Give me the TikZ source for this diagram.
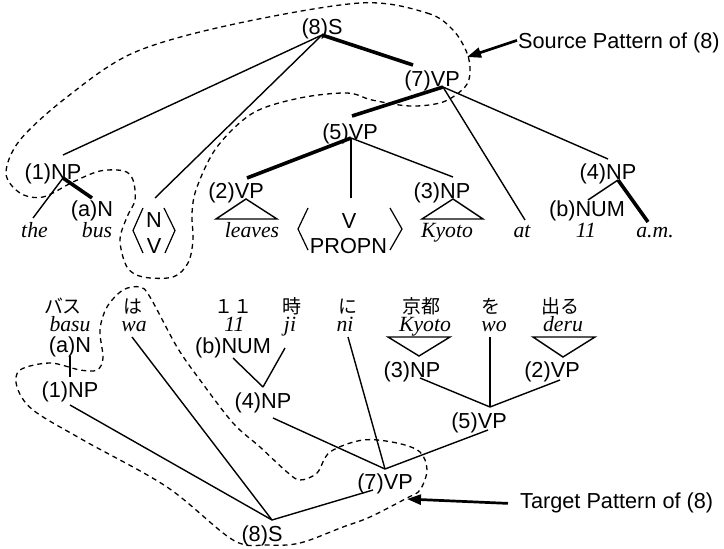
\documentclass[tikz,border=0pt]{standalone}
\usepackage{fontspec}
\usetikzlibrary{arrows.meta}
\newfontfamily\labfont{Liberation Sans}
\newfontfamily\romfont{Liberation Serif}
\newfontfamily\jpfont{Noto Sans CJK JP}
\begin{document}
\begin{tikzpicture}[x=1pt,y=-1pt,
  lab/.style={font=\labfont\fontsize{21.7}{22}\selectfont, inner sep=0pt, anchor=base},
  word/.style={font=\romfont\itshape\fontsize{21.7}{22}\selectfont, inner sep=0pt, anchor=base},
  kana/.style={font=\jpfont\fontsize{19}{20}\selectfont, inner sep=0pt, anchor=base},
  note/.style={font=\labfont\fontsize{21.7}{22}\selectfont, inner sep=0pt, anchor=base west},
  branch/.style={line width=1.4pt},
  head/.style={line width=3.6pt},
  bracket/.style={line width=1.2pt},
  pattern/.style={line width=1.3pt, dash pattern=on 5pt off 4pt},
  callout/.style={line width=2.7pt, -{Triangle[length=14pt,width=10pt]}},
]
\useasboundingbox (0,0) rectangle (724,549);

% ---------------- English tree ----------------
\node[lab] (eS8)  at (322,34)  {(8)S};
\node[lab] (eVP7) at (432,86)  {(7)VP};
\node[lab] (eVP5) at (350,139) {(5)VP};
\node[lab] (eNP1) at (53,179)  {(1)NP};
\node[lab] (eNa)  at (92,216.5)  {(a)N};
\node[lab] (eVP2) at (236,198) {(2)VP};
\node[lab] (eNP3) at (442,198) {(3)NP};
\node[lab] (eNP4) at (608,179) {(4)NP};
\node[lab] (eNUM) at (587,216.5) {(b)NUM};

\node[word] (wthe)    at (34.5,237.5) {the};
\node[word] (wbus)    at (97,237.5)   {bus};
\node[word] (wleaves) at (252,237.5)  {leaves};
\node[word] (wkyoto)  at (447,237.5)  {Kyoto};
\node[word] (wat)     at (522,237.5)  {at};
\node[word] (weleven) at (586,237.5)  {11};
\node[word] (wam)     at (655,237.5)  {a.m.};

% category sets in angle brackets
\node[lab] (cN)     at (154,227) {N};
\node[lab] (cV)     at (154,253) {V};
\node[lab] (cV2)    at (349,228) {V};
\node[lab] (cPROPN) at (348.5,253) {PROPN};
\draw[bracket] (143,208) -- (133,230.5) -- (143,253);
\draw[bracket] (164,208) -- (175,230.5) -- (165,253);
\draw[bracket] (308,208) -- (298,229) -- (308,250);
\draw[bracket] (390,208) -- (402,229) -- (390,250);

% attachment points
\coordinate (aS8)   at (322,35);
\coordinate (aVP7t) at (413,65);
\coordinate (aVP7)  at (443,87);
\coordinate (aVP5t) at (352,116);
\coordinate (aVP5)  at (351,138);
\coordinate (aNP1t) at (63,155);
\coordinate (aNP1)  at (63,178);
\coordinate (aNVt)  at (155,198);
\coordinate (aVP2t) at (247,178);
\coordinate (aV2t)  at (351,198);
\coordinate (aNP3t) at (453,177);
\coordinate (aNP4t) at (608,159);
\coordinate (aNP4)  at (618,180);
\coordinate (aNat)  at (92,198);
\coordinate (athet) at (33,218);
\coordinate (aatt)  at (525,220);
\coordinate (aNUMt) at (588,200);
\coordinate (aamt)  at (648,222);

\draw[head]   (aS8) -- (aVP7t);
\draw[branch] (aS8) -- (aNP1t);
\draw[branch] (aS8) -- (aNVt);
\draw[head]   (aVP7) -- (aVP5t);
\draw[branch] (aVP7) -- (aatt);
\draw[branch] (aVP7) -- (aNP4t);
\draw[head]   (aVP5) -- (aVP2t);
\draw[branch] (aVP5) -- (aV2t);
\draw[branch] (aVP5) -- (aNP3t);
\draw[branch] (aNP1) -- (athet);
\draw[head]   (aNP1) -- (aNat);
\draw[branch] (aNP4) -- (aNUMt);
\draw[head]   (aNP4) -- (aamt);

% collapsed subtrees
\draw[branch] (246,199) -- (216,219) -- (277,219) -- cycle;
\draw[branch] (453,199) -- (422,219) -- (483,219) -- cycle;

% source pattern outline
\draw[pattern] plot[smooth cycle, tension=0.55] coordinates {
  (360,3) (427,13) (453,30) (467,53) (470,72) (465,87) (443,102)
  (410,106) (372,100) (347,93) (300,98) (253,113) (217,147) (197,187)
  (192,213) (193,240) (188,263) (173,277) (143,277) (127,267) (120,240)
  (127,217) (135,200) (133,180) (124,171) (100,171) (73,182) (43,197)
  (20,193) (6,173) (20,140) (67,97) (133,53) (230,25)};

\node[note] (srcnote) at (518,48) {Source Pattern of (8)};
\coordinate (srctip) at (467,57);
\draw[callout] ([xshift=-1pt,yshift=2pt]srcnote.west) -- (srctip);

% ---------------- Japanese tree ----------------
\node[kana] (jbasu)  at (63,313)  {バス};
\node[kana] (jwa)    at (133,313) {は};
\node[kana] (j11)    at (233.5,313) {１１};
\node[kana] (jji)    at (292,313) {時};
\node[kana] (jni)    at (348,313) {に};
\node[kana] (jkyoto) at (421,313) {京都};
\node[kana] (jwo)    at (491,313) {を};
\node[kana] (jderu)  at (560,313) {出る};

\node[word] (rbasu)  at (70,331)  {basu};
\node[word] (rwa)    at (134,331.5) {wa};
\node[word] (r11)    at (234.5,331.5) {11};
\node[word] (rji)    at (290,331.5) {ji};
\node[word] (rni)    at (345,331.5) {ni};
\node[word] (rkyoto) at (425,331.5) {Kyoto};
\node[word] (rwo)    at (494,331.5) {wo};
\node[word] (rderu)  at (563,331.5) {deru};

\node[lab] (jNa)  at (70,352.5)  {(a)N};
\node[lab] (jNP1) at (70,397)  {(1)NP};
\node[lab] (jNUM) at (233,353) {(b)NUM};
\node[lab] (jNP4) at (263,408) {(4)NP};
\node[lab] (jNP3) at (412,377) {(3)NP};
\node[lab] (jVP2) at (552,377) {(2)VP};
\node[lab] (jVP5) at (479,428) {(5)VP};
\node[lab] (jVP7) at (385,489) {(7)VP};
\node[lab] (jS8)  at (262,541) {(8)S};

\coordinate (bNa)   at (70,356);
\coordinate (bNP1t) at (70,377);
\coordinate (bNP1)  at (70,405);
\coordinate (bS8)   at (272,520);
\coordinate (bwa)   at (132,337);
\coordinate (bNUM)  at (233,358);
\coordinate (bji)   at (285,348);
\coordinate (bNP4t) at (263,387);
\coordinate (bNP4)  at (273,418);
\coordinate (bVP7)  at (385,469);
\coordinate (bni)   at (348,337);
\coordinate (bVP7b) at (373,490);
\coordinate (bVP5)  at (488,430);
\coordinate (bVP5t) at (490,407);
\coordinate (bNP3)  at (420,378);
\coordinate (bwo)   at (490,337);
\coordinate (bVP2)  at (560,380);

\draw[branch] (bNa) -- (bNP1t);
\draw[branch] (bNP1) -- (bS8);
\draw[branch] (bwa) -- (bS8);
\draw[branch] (bNUM) -- (bNP4t);
\draw[branch] (bji) -- (bNP4t);
\draw[branch] (bNP4) -- (bVP7);
\draw[branch] (bni) -- (bVP7);
\draw[branch] (bS8) -- (bVP7b);
\draw[branch] (bVP5) -- (bVP7);
\draw[branch] (bNP3) -- (bVP5t);
\draw[branch] (bwo) -- (bVP5t);
\draw[branch] (bVP2) -- (bVP5t);

% collapsed subtrees (inverted)
\draw[branch] (388,337) -- (450,337) -- (419,356) -- cycle;
\draw[branch] (533,337) -- (595,337) -- (563,357) -- cycle;

% target pattern outline
\draw[pattern] plot[smooth cycle, tension=0.55] coordinates {
  (267,545) (300,543) (343,527) (370,517) (407,498) (420,490) (427,470)
  (420,452) (397,443) (363,440) (330,452) (317,473) (300,480) (287,472)
  (260,447) (233,423) (200,380) (177,347) (150,297) (140,287) (123,290)
  (107,307) (100,330) (103,358) (97,370) (80,370) (50,363) (20,370)
  (17,387) (33,410) (83,440) (167,487) (233,540)};

\node[note] (tgtnote) at (520,508) {Target Pattern of (8)};
\coordinate (tgttip) at (407,499);
\draw[callout] ([xshift=-12pt,yshift=-1pt]tgtnote.west) -- (tgttip);
\end{tikzpicture}
\end{document}
